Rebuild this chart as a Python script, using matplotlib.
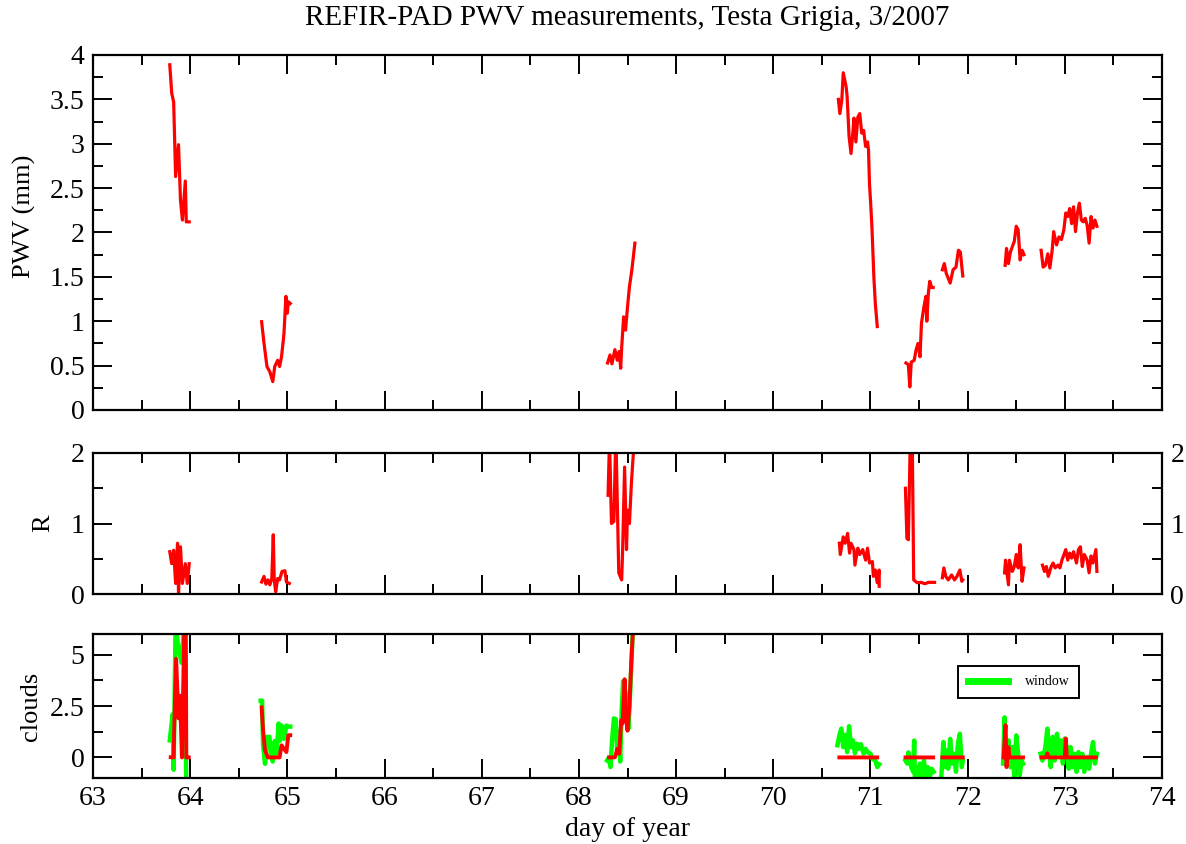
import matplotlib
matplotlib.use("Agg")
import matplotlib.pyplot as plt
from matplotlib.ticker import MultipleLocator
import numpy as np

plt.rcParams.update({
    "font.family": ["Liberation Serif", "DejaVu Serif"],
    "font.size": 20,
    "xtick.direction": "in", "ytick.direction": "in",
    "xtick.top": True, "ytick.right": True,
    "xtick.major.size": 14, "xtick.minor.size": 7,
    "ytick.major.size": 14, "ytick.minor.size": 7,
    "xtick.major.width": 1.4, "xtick.minor.width": 1.4,
    "ytick.major.width": 1.4, "ytick.minor.width": 1.4,
    "axes.linewidth": 1.6,
})

NAN = np.nan

# ---- PWV (mm), segments split by NaN ----
pwv_day = [63.79, 63.81, 63.83, 63.85, 63.88, 63.90, 63.92, 63.95, 63.96, 63.99, NAN,
           64.735, 64.76, 64.79, 64.82, 64.85, 64.87, 64.90, 64.92, 64.94, 64.965, 64.985, 64.999, 65.01, 65.03, NAN,
           68.295, 68.32, 68.34, 68.37, 68.395, 68.415, 68.43, 68.44, 68.46, 68.48, 68.50, 68.52, 68.545, 68.56, 68.576, NAN,
           70.67, 70.685, 70.705, 70.72, 70.75, 70.76, 70.78, 70.80, 70.82, 70.83, 70.85, 70.87, 70.89, 70.91,
           70.93, 70.95, 70.97, 70.98, 70.99, 71.00, 71.015, 71.035, 71.05, 71.07, NAN,
           71.365, 71.39, 71.405, 71.42, 71.45, 71.47, 71.49, 71.51, 71.525, 71.55, 71.57, 71.58, 71.595, 71.61, 71.63, 71.645, NAN,
           71.74, 71.76, 71.78, 71.82, 71.85, 71.88, 71.905, 71.925, 71.95, NAN,
           72.386, 72.40, 72.42, 72.44, 72.46, 72.48, 72.50, 72.52, 72.54, 72.56, 72.58, NAN,
           72.756, 72.777, 72.80, 72.825, 72.846, 72.87, 72.885, 72.915, 72.94, 72.965, 72.99, 73.01, 73.03, 73.05,
           73.07, 73.09, 73.11, 73.13, 73.15, 73.17, 73.19, 73.21, 73.23, 73.25, 73.27, 73.29, 73.31, 73.33]
pwv_val = [3.89, 3.57, 3.47, 2.63, 2.99, 2.37, 2.14, 2.58, 2.12, 2.12, NAN,
           0.995, 0.75, 0.49, 0.43, 0.32, 0.49, 0.56, 0.49, 0.60, 0.86, 1.28, 1.09, 1.22, 1.20, NAN,
           0.53, 0.62, 0.52, 0.68, 0.56, 0.66, 0.47, 0.70, 1.05, 0.90, 1.16, 1.39, 1.58, 1.73, 1.88, NAN,
           3.50, 3.34, 3.49, 3.80, 3.64, 3.53, 3.08, 2.89, 3.14, 3.29, 3.02, 3.30, 3.34, 3.12,
           3.15, 2.97, 3.02, 2.93, 2.55, 2.37, 2.07, 1.50, 1.20, 0.94, NAN,
           0.53, 0.51, 0.26, 0.54, 0.56, 0.68, 0.75, 0.60, 0.98, 1.16, 1.28, 1.00, 1.31, 1.45, 1.38, 1.38, NAN,
           1.58, 1.65, 1.54, 1.43, 1.58, 1.61, 1.80, 1.78, 1.51, NAN,
           1.63, 1.82, 1.65, 1.78, 1.84, 1.90, 2.07, 2.03, 1.69, 1.80, 1.75, NAN,
           1.80, 1.61, 1.63, 1.76, 1.60, 1.80, 2.01, 1.86, 1.95, 1.92, 2.03, 2.22, 2.18, 2.27,
           2.10, 2.29, 2.01, 2.22, 2.33, 2.14, 2.12, 2.16, 2.08, 1.88, 2.18, 2.05, 2.14, 2.07]

# ---- R ----
r_day = [63.79, 63.81, 63.83, 63.85, 63.87, 63.88, 63.90, 63.92, 63.95, 63.97, 63.99, NAN,
         64.735, 64.76, 64.78, 64.80, 64.82, 64.84, 64.855, 64.865, 64.88, 64.90, 64.92, 64.945, 64.975, 64.99, 65.02, NAN,
         68.30, 68.315, 68.335, 68.36, 68.38, 68.41, 68.44, 68.45, 68.47, 68.49, 68.50, 68.52, 68.54, 68.56, 68.57, NAN,
         70.68, 70.69, 70.72, 70.74, 70.765, 70.785, 70.80, 70.83, 70.84, 70.87, 70.89, 70.92, 70.95, 70.97,
         70.99, 71.02, 71.03, 71.05, 71.07, 71.09, 71.09, NAN,
         71.36, 71.375, 71.39, 71.41, 71.43, 71.445, 71.48, 71.52, 71.56, 71.60, 71.66, NAN,
         71.74, 71.755, 71.775, 71.80, 71.835, 71.865, 71.89, 71.92, 71.94, 71.95, NAN,
         72.38, 72.39, 72.42, 72.43, 72.46, 72.48, 72.50, 72.52, 72.54, 72.56, 72.58, NAN,
         72.77, 72.79, 72.81, 72.83, 72.86, 72.88, 72.90, 72.93, 72.95, 72.97, 73.01, 73.03, 73.05, 73.07,
         73.09, 73.12, 73.14, 73.16, 73.18, 73.20, 73.23, 73.25, 73.27, 73.29, 73.32, 73.33]
r_val = [0.60, 0.43, 0.62, 0.15, 0.72, 0.01, 0.67, 0.15, 0.43, 0.15, 0.43, NAN,
         0.17, 0.25, 0.14, 0.20, 0.13, 0.22, 0.84, 0.20, 0.03, 0.22, 0.20, 0.32, 0.33, 0.17, 0.15, NAN,
         1.40, 2.20, 1.00, 1.03, 2.30, 0.30, 0.20, 0.63, 1.80, 0.63, 1.19, 1.00, 1.57, 1.99, 2.20, NAN,
         0.72, 0.56, 0.81, 0.72, 0.86, 0.58, 0.72, 0.63, 0.41, 0.65, 0.56, 0.63, 0.48, 0.65,
         0.44, 0.46, 0.25, 0.34, 0.16, 0.34, 0.11, NAN,
         1.50, 0.79, 0.77, 2.20, 2.20, 0.20, 0.16, 0.165, 0.146, 0.165, 0.165, NAN,
         0.23, 0.37, 0.25, 0.20, 0.27, 0.20, 0.25, 0.34, 0.18, 0.20, NAN,
         0.30, 0.48, 0.13, 0.48, 0.32, 0.39, 0.56, 0.37, 0.70, 0.18, 0.37, NAN,
         0.41, 0.32, 0.39, 0.25, 0.39, 0.44, 0.37, 0.41, 0.37, 0.48, 0.63, 0.48, 0.58, 0.51,
         0.60, 0.44, 0.63, 0.67, 0.39, 0.56, 0.48, 0.30, 0.54, 0.44, 0.63, 0.32]

# ---- clouds (red) ----
cloud_day = [63.80, 63.83, 63.835, 63.855, 63.88, 63.895, 63.915, 63.94, 63.955, 63.96, 63.985, NAN,
             64.735, 64.75, 64.77, 64.80, 64.89, 64.92, 64.94, 64.965, 64.99, 65.01, 65.03, NAN,
             68.31, 68.37, 68.395, 68.415, 68.435, 68.45, 68.47, 68.48, 68.50, 68.52, 68.54, 68.56, NAN,
             70.68, 71.07, NAN,
             71.36, 71.645, NAN,
             71.74, 71.95, NAN,
             72.37, 72.39, 72.40, 72.42, 72.43, 72.57, NAN,
             72.76, 72.81, 72.82, 72.83, 73.00, 73.01, 73.02, 73.32]
cloud_val = [0.01, 0.0, 1.3, 4.8, 1.9, 3.0, 0.0, 6.5, 6.5, 0.0, 0.0, NAN,
             2.43, 1.32, 0.34, 0.0, 0.0, 0.0, 0.59, 0.42, 0.26, 1.08, 1.08, NAN,
             0.0, 0.0, 0.42, 0.18, 1.8, 1.65, 3.8, 2.3, 1.3, 2.5, 4.75, 6.5, NAN,
             0.0, 0.0, NAN,
             0.0, 0.0, NAN,
             0.0, 0.0, NAN,
             0.0, 1.57, -0.47, 0.5, 0.0, 0.0, NAN,
             0.0, 0.0, 0.2, 0.0, 0.0, 0.92, 0.0, 0.0]

# ---- window (green) ----
window_day = [63.79, 63.82, 63.83, 63.85, 63.87, 63.89, 63.91, 63.94, 63.96, NAN,
              64.725, 64.74, 64.75, 64.77, 64.79, 64.815, 64.83, 64.85, 64.87, 64.89, 64.91, 64.92, 64.94, 64.965, 64.99, 65.01, 65.03, NAN,
              68.29, 68.31, 68.325, 68.34, 68.36, 68.38, 68.395, 68.41, 68.425, 68.44, 68.455, 68.47, 68.49, 68.51, 68.53, 68.55, 68.56, NAN,
              70.66, 70.68, 70.70, 70.72, 70.74, 70.76, 70.78, 70.80, 70.82, 70.84, 70.86, 70.88, 70.90, 70.93,
              70.95, 70.97, 71.00, 71.02, 71.05, 71.07, 71.09, NAN,
              71.36, 71.38, 71.39, 71.42, 71.44, 71.45, 71.46, 71.48, 71.49, 71.51, 71.53, 71.55, 71.57, 71.59, 71.61, 71.63, 71.65, NAN,
              71.73, 71.75, 71.77, 71.78, 71.80, 71.82, 71.84, 71.86, 71.88, 71.90, 71.92, 71.94, 71.95, NAN,
              72.365, 72.38, 72.40, 72.42, 72.44, 72.46, 72.48, 72.50, 72.52, 72.535, 72.555, 72.57, NAN,
              72.75, 72.77, 72.80, 72.82, 72.84, 72.855, 72.875, 72.895, 72.92, 72.94, 72.96, 72.98, 73.00, 73.02,
              73.04, 73.06, 73.08, 73.10, 73.12, 73.14, 73.16, 73.18, 73.20, 73.23, 73.25, 73.27, 73.29, 73.31, 73.33]
window_val = [0.83, 2.1, -0.6, 6.5, 5.6, 5.1, 4.6, 6.5, -1.5, NAN,
              2.76, 2.76, 0.6, -0.31, 1.0, 1.0, 0.18, -0.2, 0.8, 0.18, 1.65, 0.8, 1.55, 0.9, 1.55, 1.5, 1.5, NAN,
              -0.15, 0.0, -0.47, 0.75, 1.9, 1.85, 0.2, 1.25, -0.2, 2.3, 3.7, 3.4, 2.9, 1.4, 3.4, 5.7, 6.5, NAN,
              0.59, 1.07, 1.4, 0.5, 1.1, 0.26, 1.52, 0.5, 0.83, 0.2, 0.67, 0.42, 0.65, 0.18,
              0.42, 0.26, 0.18, -0.07, -0.15, -0.47, -0.34, NAN,
              -0.15, -0.3, 0.25, -0.47, -0.7, 0.82, -1.78, -0.47, -0.96, -0.3, -1.45, -0.15, -1.1, -0.47, -0.96, -0.55, -0.7, NAN,
              -0.88, 0.75, -0.47, 0.34, -0.55, 0.9, -0.3, 0.18, -0.7, 0.67, 1.15, -0.47, -0.15, NAN,
              -0.3, 1.95, -0.3, 0.83, -0.47, 0.5, -0.96, 1.07, 0.18, -0.88, -0.15, -0.3, NAN,
              0.18, -0.15, 0.5, 1.4, 0.18, -0.47, 1.0, -0.15, 1.15, 0.18, 0.83, -0.3, 0.92, 0.5,
              -0.55, 0.5, -0.47, 0.18, -0.7, 0.26, -0.47, 0.18, -0.7, 0.0, -0.55, 0.18, 0.75, -0.3, 0.18]

x_ticks = list(range(63, 75))

W, H = 1186, 844
fig = plt.figure(figsize=(W / 100, H / 100), dpi=100)

left, width = 93 / W, (1162 - 93) / W
ax1 = fig.add_axes([left, 1 - 410 / H, width, (410 - 55) / H])
ax2 = fig.add_axes([left, 1 - 594 / H, width, (594 - 453) / H])
ax3 = fig.add_axes([left, 1 - 778 / H, width, (778 - 634) / H])

for ax in (ax1, ax2, ax3):
    ax.set_xlim(63, 74)
    ax.xaxis.set_major_locator(MultipleLocator(1))
    ax.xaxis.set_minor_locator(MultipleLocator(0.5))
    ax.tick_params(axis="both", which="both", pad=6)

# Panel 1: PWV
ax1.plot(pwv_day, pwv_val, color="red", linewidth=2.3)
ax1.set_ylim(0, 4)
ax1.yaxis.set_minor_locator(MultipleLocator(0.25))
ax1.set_yticks(np.arange(0, 4.01, 0.5))
ax1.set_yticklabels(["0", "0.5", "1", "1.5", "2", "2.5", "3", "3.5", "4"])
ax1.tick_params(labelbottom=False)
ax1.set_ylabel("PWV (mm)", fontsize=19)
ax1.yaxis.set_label_coords(-0.053, 0.545)

# Panel 2: R
ax2.plot(r_day, r_val, color="red", linewidth=2.3)
ax2.set_ylim(0, 2)
ax2.yaxis.set_major_locator(MultipleLocator(1))
ax2.yaxis.set_minor_locator(MultipleLocator(0.5))
ax2.tick_params(labelbottom=False, labelright=True)
ax2.set_ylabel("R", fontsize=19)
ax2.yaxis.set_label_coords(-0.036, 0.5)

# Panel 3: clouds
ax3.plot(window_day, window_val, color="#00ff00", linewidth=3.2, label="window")
ax3.plot(cloud_day, cloud_val, color="red", linewidth=2.8)
ax3.set_ylim(-1, 6)
ax3.set_yticks([0, 2.5, 5])
ax3.set_yticklabels(["0", "2.5", "5"])
ax3.yaxis.set_minor_locator(MultipleLocator(1.25))
ax3.set_xticks(x_ticks)
ax3.set_xlabel("day of year", labelpad=4)
ax3.set_ylabel("clouds", fontsize=19)
ax3.yaxis.set_label_coords(-0.048, 0.5)
leg = ax3.legend(loc="upper left", bbox_to_anchor=(0.809, 0.78), fontsize=10,
                 fancybox=False, edgecolor="black", framealpha=1, borderaxespad=0,
                 handlelength=2.9, handletextpad=1.2, borderpad=0.7)
leg.get_frame().set_linewidth(1.4)
for line in leg.get_lines():
    line.set_linewidth(5)

fig.text((93 + 1162) / 2 / W, 1 - 18 / H, "REFIR-PAD PWV measurements, Testa Grigia, 3/2007",
         ha="center", va="center", fontsize=21)

fig.savefig("out.png", dpi=100)
plt.close(fig)
